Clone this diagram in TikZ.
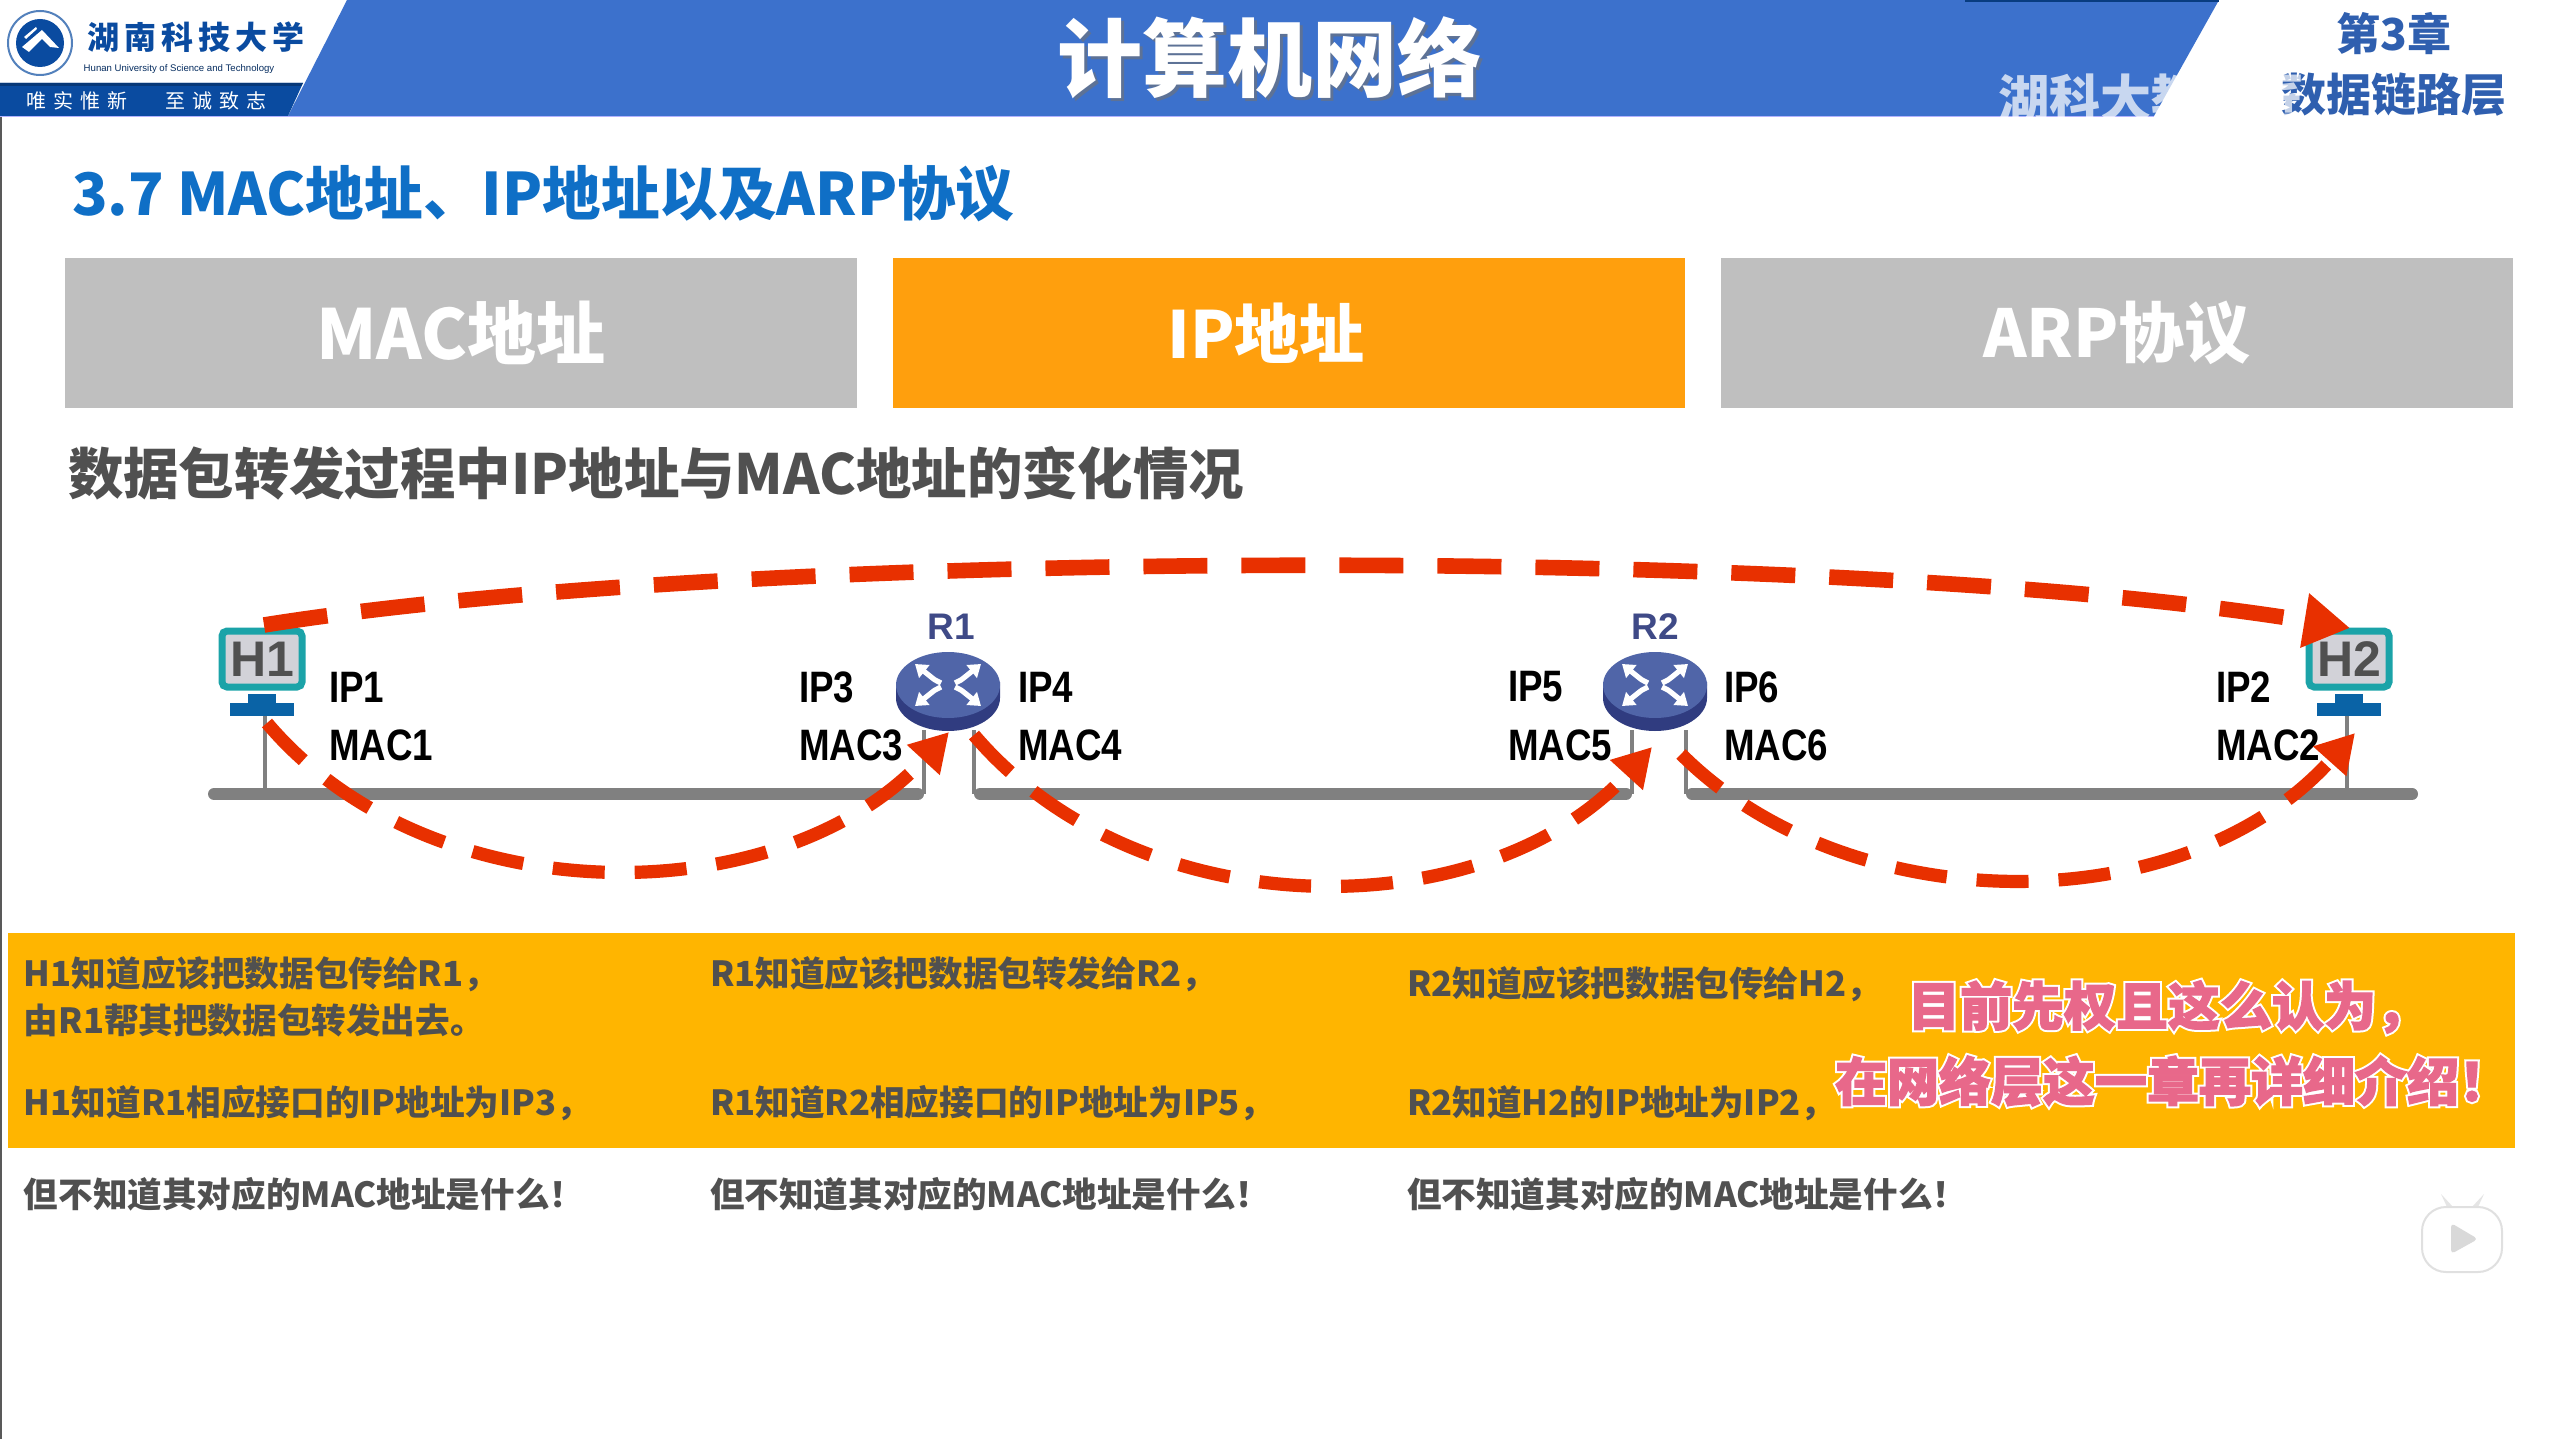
\documentclass[tikz,border=0pt]{standalone}
\usepackage{fontspec}
\usetikzlibrary{arrows.meta,calc,shapes.geometric}
\setmainfont{Noto Sans CJK SC}
\newfontfamily\arialf{Liberation Sans}
\newcommand{\fpx}[1]{\fontsize{#1pt}{#1pt}\selectfont}
\newcommand{\outl}[1]{\rlap{\special{pdf:literal direct 2 Tr 2.6 w 1 1 1 RG}#1\special{pdf:literal direct 0 Tr}}\special{pdf:literal direct 2 Tr 0.6 w 0.91 0.41 0.54 RG}#1\special{pdf:literal direct 0 Tr}}
\newcommand{\nar}[1]{\scalebox{.835}[1]{#1}}
\definecolor{hdrblue}{HTML}{3C71CC}
\definecolor{navy}{HTML}{0A4BA0}
\definecolor{secblue}{HTML}{0F6FC6}
\definecolor{tabgray}{HTML}{BFBFBF}
\definecolor{taborange}{HTML}{FF9F0D}
\definecolor{band}{HTML}{FFB500}
\definecolor{bodygray}{HTML}{505050}
\definecolor{redarrow}{HTML}{E83000}
\definecolor{busgray}{HTML}{808080}
\definecolor{teal}{HTML}{1BA3A8}
\definecolor{screen}{HTML}{D2D2D8}
\definecolor{stand}{HTML}{0A63A6}
\definecolor{rlabel}{HTML}{3F4A87}
\definecolor{rtop}{HTML}{5065A8}
\definecolor{rbase}{HTML}{303C80}
\definecolor{notepink}{HTML}{E8688A}
\definecolor{chapblue}{HTML}{2F5FAF}
\tikzset{
  txt/.style={inner sep=0pt,outer sep=0pt},
  tabbox/.style={txt,minimum width=396pt,minimum height=75pt,text=white,font=\fpx{34.5}\bfseries},
  bandtxt/.style={txt,anchor=west,text=bodygray,font=\fpx{17.3}\bfseries},
  addr/.style={txt,anchor=west,text=black,font=\arialf\fpx{22}\bfseries},
  bus/.style={line width=6pt,busgray,line cap=round},
  drop/.style={line width=1.6pt,busgray},
  hoptop/.style={line width=7.8pt,redarrow,dash pattern=on 32pt off 17pt,-{Triangle[length=23pt,width=26pt]}},
  hoplow/.style={line width=6.6pt,redarrow,dash pattern=on 26pt off 15pt,-{Triangle[length=19pt,width=21pt]}},
  monitor/.style={txt,draw=teal,line width=3.5pt,fill=screen,rounded corners=2.5pt,minimum width=40pt,minimum height=28pt,text=bodygray,font=\arialf\fpx{25}\bfseries},
  rname/.style={txt,text=rlabel,font=\arialf\fpx{18.5}\bfseries},
  note/.style={txt,text=notepink,font=\fpx{26}\bfseries},
}
\newcommand{\hostpic}[4]{% name x y label
  \node[monitor] (#1) at (#2,#3) {#4};
  \fill[stand] (#2-14,#3+35) rectangle (#2+14,#3+45);
  \fill[stand] (#2-32,#3+44) rectangle (#2+32,#3+57);
}
\newcommand{\routerpic}[3]{% name x y (disc centre)
  \fill[rbase] (#2-52,#3-8) -- (#2-52,#3+8) arc[start angle=180,end angle=0,x radius=52,y radius=33] -- (#2+52,#3-8) -- cycle;
  \node[txt,fill=rtop,ellipse,minimum width=52pt,minimum height=33pt] (#1) at (#2,#3-5) {};
  \foreach \sx/\sy in {1/1,1/-1,-1/1,-1/-1}{
    \draw[white,line width=2.6pt,-{Triangle[length=6pt,width=8pt]}] (#2+\sx*7,#3-5+\sy*2) .. controls (#2+\sx*12,#3-5+\sy*4) .. (#2+\sx*33,#3-5+\sy*21);
  }
}
\begin{document}
\begin{tikzpicture}[x=0.5pt,y=-0.5pt]
\useasboundingbox (0,0) rectangle (2559,1439);
\fill[white] (0,0) rectangle (2559,1439);
\fill[black!65] (0,116) rectangle (2,1439);
% header
\fill[hdrblue] (288,116) -- (347,0) -- (2219,0) -- (2154,116) -- cycle;
\fill[navy!80!black] (1965,0) rectangle (2219,2);
\fill[navy] (0,83) -- (303,83) -- (288,116) -- (0,116) -- cycle;
\fill[navy!75!black] (0,83) -- (303,83) -- (301,86) -- (0,86) -- cycle;
\draw[line width=0.8pt,blue!30!white] (0,116.5) -- (2154,116.5);
% logo
\draw[navy!70!white,line width=1pt] (40,43) circle[radius=32];
\fill[navy] (40,43) circle[radius=24];
\fill[white] (22,47) -- (42,30) -- (59,48) -- (50,47) -- (42,39) -- (29,52) -- cycle;
\fill[white] (24,37) -- (36,27) -- (37,29) -- (26,39) -- cycle;
\node[txt,text=navy,font=\fpx{16}\bfseries] (school) at (196,37) {湖\hspace{2.5pt}南\hspace{2.5pt}科\hspace{2.5pt}技\hspace{2.5pt}大\hspace{2.5pt}学};
\node[txt,text=navy!60!black,font=\arialf\fpx{4.8}] (schoolen) at (179,69) {Hunan University of Science and Technology};
\node[txt,text=white,font=\fpx{10}] (motto) at (146,101) {唯\hspace{3.5pt}实\hspace{3.5pt}惟\hspace{3.5pt}新\hspace{19pt}至\hspace{3.5pt}诚\hspace{3.5pt}致\hspace{3.5pt}志};
% title
\node[txt,text=black!55,opacity=.6,font=\fpx{42.5}\bfseries] (titleshadow) at (1273,61) {计算机网络};
\node[txt,text=white,font=\fpx{42.5}\bfseries] (title) at (1270,58) {计算机网络};
\node[txt,text=chapblue,font=\fpx{22}\bfseries] (chap) at (2394,34) {第3章};
\node[txt,text=chapblue,font=\fpx{22.5}\bfseries] (layer) at (2394,95) {数据链路层};
\node[txt,anchor=west,text=white,opacity=.72,font=\fpx{25.5}\bfseries] (wm) at (1998,98) {湖科大教书匠};
% section
\node[txt,anchor=west,text=secblue,font=\fpx{29.3}\bfseries] (sec) at (72,194) {3.7 MAC地址、IP地址以及ARP协议};
\node[tabbox,fill=tabgray] (tab1) at (461,333) {\raisebox{-2.5pt}{MAC地址}};
\node[tabbox,fill=taborange] (tab2) at (1289,333) {\raisebox{-2.5pt}{\fontsize{32.5pt}{32.5pt}\selectfont IP地址}\hspace*{23pt}\mbox{}};
\node[tabbox,fill=tabgray] (tab3) at (2117,333) {\raisebox{-2.5pt}{\fontsize{33pt}{33pt}\selectfont ARP协议}};
\node[txt,anchor=west,text=bodygray,font=\fpx{27.7}\bfseries] (sub) at (68,473) {数据包转发过程中IP地址与MAC地址的变化情况};
% band
\fill[band] (8,933) rectangle (2515,1148);
\node[bandtxt] (a1) at (24,974) {H1知道应该把数据包传给R1，};
\node[bandtxt] (a2) at (24,1020) {由R1帮其把数据包转发出去。};
\node[bandtxt] (a3) at (24,1103) {H1知道R1相应接口的IP地址为IP3，};
\node[bandtxt] (a4) at (24,1194) {但不知道其对应的MAC地址是什么！};
\node[bandtxt] (b1) at (710,974) {R1知道应该把数据包转发给R2，};
\node[bandtxt] (b3) at (710,1103) {R1知道R2相应接口的IP地址为IP5，};
\node[bandtxt] (b4) at (710,1194) {但不知道其对应的MAC地址是什么！};
\node[bandtxt] (c1) at (1407,984) {R2知道应该把数据包传给H2，};
\node[bandtxt] (c3) at (1407,1103) {R2知道H2的IP地址为IP2，};
\node[bandtxt] (c4) at (1407,1194) {但不知道其对应的MAC地址是什么！};
\node[note] (n1) at (2168,1007) {\outl{目前先权且这么认为，}};
\node[note] (n2) at (2173,1081) {\outl{在网络层这一章再详细介绍！}};
% network
\coordinate (b1l) at (214,794); \coordinate (b1r) at (918,794);
\coordinate (b2l) at (980,794); \coordinate (b2r) at (1626,794);
\coordinate (b3l) at (1692,794); \coordinate (b3r) at (2412,794);
\coordinate (r1a) at (924,700); \coordinate (r1b) at (974,700);
\coordinate (r2a) at (1632,700); \coordinate (r2b) at (1686,700);
\coordinate (h1d) at (265,715); \coordinate (h2d) at (2347,715);
\draw[drop] (h1d) -- (h1d |- b1l);
\draw[drop] (h2d) -- (h2d |- b3l);
\routerpic{r1}{948}{690}
\routerpic{r2}{1655}{690}
\draw[drop] (r1a) ++(0,30) -- (r1a |- b1l);
\draw[drop] (r1b) ++(0,30) -- (r1b |- b2l);
\draw[drop] (r2a) ++(0,30) -- (r2a |- b2l);
\draw[drop] (r2b) ++(0,30) -- (r2b |- b3l);
\draw[bus] (b1l) -- (b1r);
\draw[bus] (b2l) -- (b2r);
\draw[bus] (b3l) -- (b3r);
\hostpic{h1}{262}{659}{H1}
\hostpic{h2}{2349}{659}{H2}
\node[rname] (r1name) at (951,627) {R1};
\node[rname] (r2name) at (1655,627) {R2};
\node[addr] (ip1) at (329,687) {\nar{IP1}};
\node[addr] (mac1) at (329,745) {\nar{MAC1}};
\node[addr] (ip3) at (799,687) {\nar{IP3}};
\node[addr] (mac3) at (799,745) {\nar{MAC3}};
\node[addr] (ip4) at (1018,687) {\nar{IP4}};
\node[addr] (mac4) at (1018,745) {\nar{MAC4}};
\node[addr] (ip5) at (1508,687) {\nar{IP5}};
\node[addr] (mac5) at (1508,745) {\nar{MAC5}};
\node[addr] (ip6) at (1724,687) {\nar{IP6}};
\node[addr] (mac6) at (1724,745) {\nar{MAC6}};
\node[addr] (ip2) at (2216,687) {\nar{IP2}};
\node[addr] (mac2) at (2216,745) {\nar{MAC2}};
% hops
\coordinate (t0) at (264,625); \coordinate (t1) at (2350,628);
\coordinate (p0) at (267,723); \coordinate (p1) at (949,732);
\coordinate (q0) at (974,735); \coordinate (q1) at (1652,747);
\coordinate (s0) at (1681,754); \coordinate (s1) at (2355,733);
\draw[hoptop] (t0) .. controls (760,546) and (1850,546) .. (t1);
\draw[hoplow] (p0) .. controls (430,916) and (780,916) .. (p1);
\draw[hoplow] (q0) .. controls (1140,930) and (1485,930) .. (q1);
\draw[hoplow] (s0) .. controls (1850,923) and (2185,923) .. (s1);
% player badge
\fill[black!10] (2447,1207) -- (2441,1194) -- (2453,1207) -- cycle;
\fill[black!10] (2478,1207) -- (2484,1194) -- (2472,1207) -- cycle;
\draw[black!12,fill=white,line width=1pt,rounded corners=12pt] (2422,1207) rectangle (2502,1272);
\fill[black!15,rounded corners=2pt] (2451,1223) -- (2451,1254) -- (2478,1239) -- cycle;
\end{tikzpicture}
\end{document}
